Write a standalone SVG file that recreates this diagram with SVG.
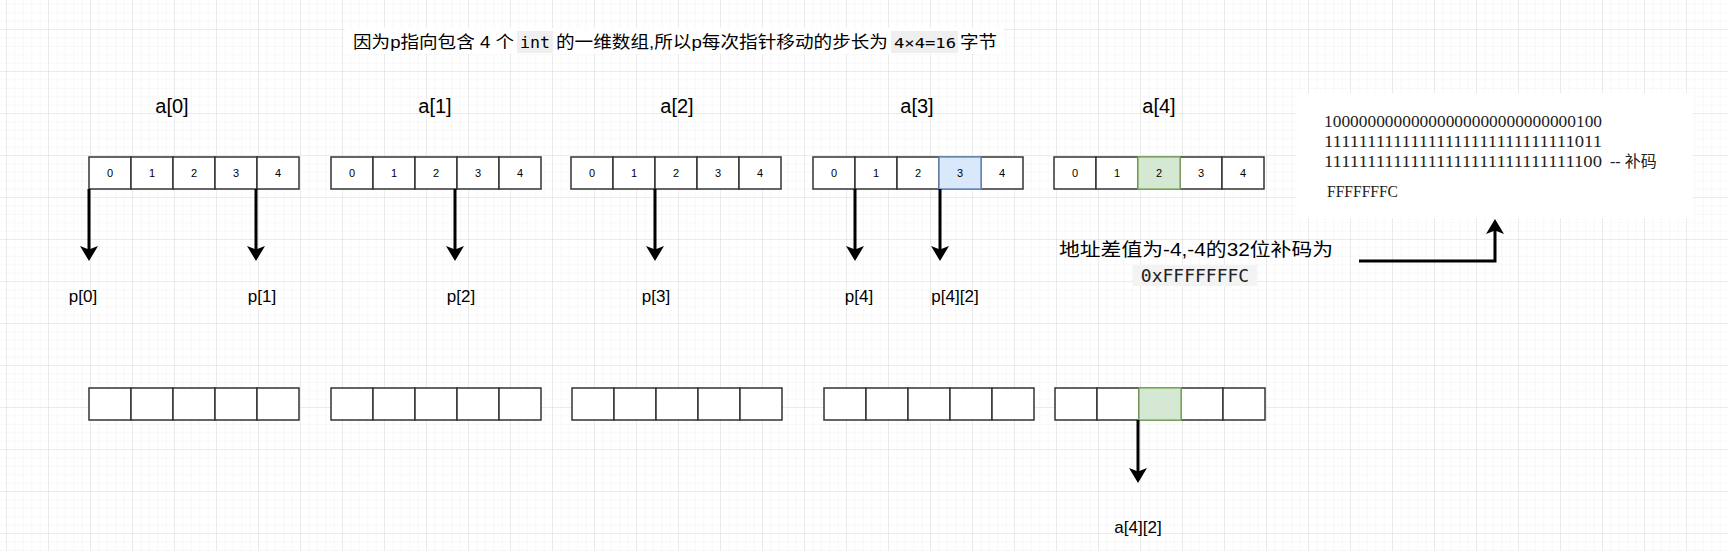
<svg xmlns="http://www.w3.org/2000/svg" width="1728" height="551" viewBox="0 0 1728 551">
<style>
.c{fill:#fff;stroke:#333;stroke-width:1.5}
.n{font-family:"Liberation Sans",Arial,sans-serif;font-size:11px;text-anchor:middle;fill:#000}
.lab{font-family:"Liberation Sans",Arial,sans-serif;font-size:20px;text-anchor:middle;fill:#000}
.pl{font-family:"Liberation Sans",Arial,sans-serif;font-size:17px;text-anchor:middle;fill:#000}
.cj{font-family:"Liberation Sans","Noto Sans CJK SC",sans-serif;fill:#000}
.mono{font-family:"DejaVu Sans Mono","Liberation Mono",monospace}
.bin{font-family:"Liberation Serif","Noto Sans CJK SC",serif;font-size:16px;fill:#222}
.ar{stroke:#000;stroke-width:3;fill:none;marker-end:url(#ah)}
</style>
<defs>
<pattern id="gm" width="8.4" height="8.4" patternUnits="userSpaceOnUse"><path d="M8.4 0V8.4H0" fill="none" stroke="#f1f1f1" stroke-width="1"/></pattern>
<pattern id="gM" x="7" y="30" width="42" height="42" patternUnits="userSpaceOnUse"><rect width="42" height="42" fill="url(#gm)"/><path d="M42 0V42H0" fill="none" stroke="#dedede" stroke-width="1"/></pattern>
<marker id="ah" markerWidth="5" markerHeight="6" refX="4" refY="3" orient="auto" markerUnits="strokeWidth"><path d="M0 0L5 3L0 6L1.2 3Z" fill="#000"/></marker>
<g id="arr5">
<rect class="c" x="0" y="0" width="42" height="32"/><rect class="c" x="42" y="0" width="42" height="32"/><rect class="c" x="84" y="0" width="42" height="32"/><rect class="c" x="126" y="0" width="42" height="32"/><rect class="c" x="168" y="0" width="42" height="32"/>
</g>
</defs>
<rect width="1728" height="551" fill="#fff"/>
<rect width="1728" height="551" fill="url(#gM)"/>

<g id="title">
<rect x="344" y="28" width="660" height="26" fill="#fff"/>
<rect x="517" y="31" width="36" height="22" fill="#efefef"/>
<rect x="891" y="31" width="67" height="22" fill="#efefef"/>
<text class="cj" x="353" y="48" font-size="17" textLength="161" lengthAdjust="spacingAndGlyphs">因为p指向包含 4 个</text>
<text class="mono" x="520" y="48" font-size="16" textLength="30" lengthAdjust="spacingAndGlyphs">int</text>
<text class="cj" x="556" y="48" font-size="17" textLength="332" lengthAdjust="spacingAndGlyphs">的一维数组,所以p每次指针移动的步长为</text>
<text class="mono" x="894" y="48" font-size="14" textLength="62" lengthAdjust="spacingAndGlyphs">4×4=16</text>
<text class="cj" x="960" y="48" font-size="17" textLength="37" lengthAdjust="spacingAndGlyphs">字节</text>
</g>

<g id="a0"><text class="lab" x="172" y="113">a[0]</text><use href="#arr5" x="89" y="157"/>
<text class="n" x="110" y="177">0</text><text class="n" x="152" y="177">1</text><text class="n" x="194" y="177">2</text><text class="n" x="236" y="177">3</text><text class="n" x="278" y="177">4</text></g>
<g id="a1"><text class="lab" x="435" y="113">a[1]</text><use href="#arr5" x="331" y="157"/>
<text class="n" x="352" y="177">0</text><text class="n" x="394" y="177">1</text><text class="n" x="436" y="177">2</text><text class="n" x="478" y="177">3</text><text class="n" x="520" y="177">4</text></g>
<g id="a2"><text class="lab" x="677" y="113">a[2]</text><use href="#arr5" x="571" y="157"/>
<text class="n" x="592" y="177">0</text><text class="n" x="634" y="177">1</text><text class="n" x="676" y="177">2</text><text class="n" x="718" y="177">3</text><text class="n" x="760" y="177">4</text></g>
<g id="a3"><text class="lab" x="917" y="113">a[3]</text><use href="#arr5" x="813" y="157"/>
<rect x="939" y="157" width="42" height="32" fill="#dae8fc" stroke="#6c8ebf" stroke-width="1.5"/>
<text class="n" x="834" y="177">0</text><text class="n" x="876" y="177">1</text><text class="n" x="918" y="177">2</text><text class="n" x="960" y="177">3</text><text class="n" x="1002" y="177">4</text></g>
<g id="a4"><text class="lab" x="1159" y="113">a[4]</text><use href="#arr5" x="1054" y="157"/>
<rect x="1138" y="157" width="42" height="32" fill="#d5e8d4" stroke="#82b366" stroke-width="1.5"/>
<text class="n" x="1075" y="177">0</text><text class="n" x="1117" y="177">1</text><text class="n" x="1159" y="177">2</text><text class="n" x="1201" y="177">3</text><text class="n" x="1243" y="177">4</text></g>

<g id="b0"><use href="#arr5" x="89" y="388"/></g>
<g id="b1"><use href="#arr5" x="331" y="388"/></g>
<g id="b2"><use href="#arr5" x="572" y="388"/></g>
<g id="b3"><use href="#arr5" x="824" y="388"/></g>
<g id="b4"><use href="#arr5" x="1055" y="388"/><rect x="1139" y="388" width="42" height="32" fill="#d5e8d4" stroke="#82b366" stroke-width="1.5"/></g>

<g id="plabels">
<text class="pl" x="83" y="302">p[0]</text><text class="pl" x="262" y="302">p[1]</text><text class="pl" x="461" y="302">p[2]</text><text class="pl" x="656" y="302">p[3]</text><text class="pl" x="859" y="302">p[4]</text><text class="pl" x="955" y="302">p[4][2]</text>
<text class="pl" x="1138" y="533">a[4][2]</text>
</g>

<g id="note">
<text class="cj" x="1059" y="256" font-size="18" textLength="274" lengthAdjust="spacingAndGlyphs">地址差值为-4,-4的32位补码为</text>
<rect x="1133" y="265" width="124" height="21" fill="#f3f3f3"/>
<text class="mono" x="1195" y="282" font-size="18" text-anchor="middle" fill="#222">0xFFFFFFFC</text>
</g>

<g id="binbox">
<rect x="1296" y="93" width="397" height="125" fill="#fff"/>
<text class="bin" x="1324" y="127" textLength="278" lengthAdjust="spacingAndGlyphs">10000000000000000000000000000100</text>
<text class="bin" x="1324" y="147" textLength="278" lengthAdjust="spacingAndGlyphs">11111111111111111111111111111011</text>
<text class="bin" x="1324" y="167" textLength="278" lengthAdjust="spacingAndGlyphs">11111111111111111111111111111100</text>
<text class="bin" x="1610" y="167">--  补码</text>
<text class="bin" x="1327" y="197" textLength="71" lengthAdjust="spacingAndGlyphs">FFFFFFFC</text>
</g>

<g id="connectors">
<path class="ar" d="M89 189V258"/>
<path class="ar" d="M256 189V258"/>
<path class="ar" d="M455 189V258"/>
<path class="ar" d="M655 189V258"/>
<path class="ar" d="M855 189V258"/>
<path class="ar" d="M940 189V258"/>
<path class="ar" d="M1138 420V480"/>
<path class="ar" d="M1359 261H1495V222"/>
</g>
</svg>
